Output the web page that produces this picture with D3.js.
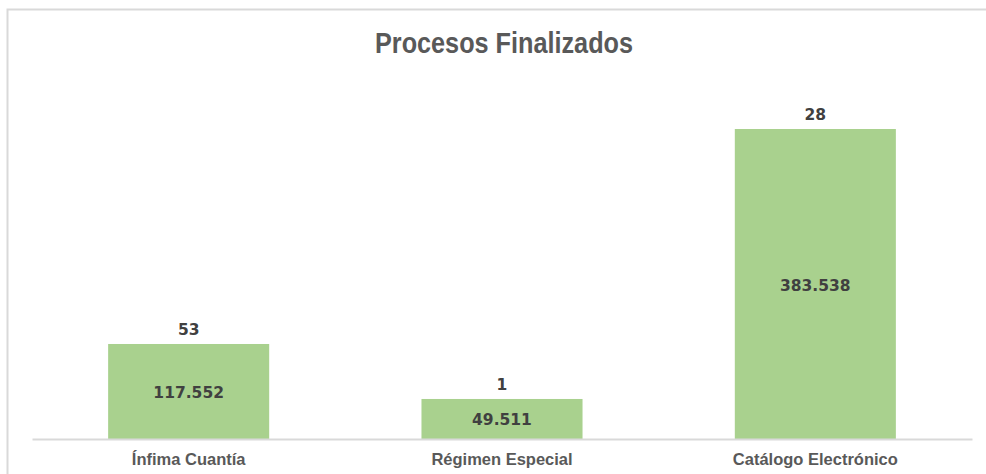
<!DOCTYPE html>
<html>
<head>
<meta charset="utf-8">
<script src="https://cdn.jsdelivr.net/npm/d3@7/dist/d3.min.js"></script>
<style>
  html, body { margin: 0; padding: 0; background: #fff; }
  svg { display: block; }
</style>
</head>
<body>
<svg id="chart" width="986" height="474"></svg>
<script>
const categories = ["Ínfima Cuantía", "Régimen Especial", "Catálogo Electrónico"];
const amounts = [117.552, 49.511, 383.538];
const amountLabels = ["117.552", "49.511", "383.538"];
const counts = [53, 1, 28];
const title = "Procesos Finalizados";

const svg = d3.select("#chart");
const W = 986, H = 474;

// chart border
svg.append("rect")
  .attr("x", 7.5).attr("y", 9.5)
  .attr("width", W + 10).attr("height", H + 10)
  .attr("fill", "#fff")
  .attr("stroke", "#d9d9d9").attr("stroke-width", 2);

const plot = { left: 32, right: 972, top: 129, bottom: 439 };

const x = d3.scaleBand()
  .domain(categories)
  .range([plot.left, plot.right])
  .paddingInner(0.486)
  .paddingOuter(0.243);

const y = d3.scaleLinear()
  .domain([0, 383.538])
  .range([plot.bottom, plot.top]);

const data = categories.map((c, i) => ({ c, v: amounts[i], lab: amountLabels[i], n: counts[i] }));

// bars
svg.append("g").selectAll("rect")
  .data(data).join("rect")
  .attr("x", d => x(d.c))
  .attr("y", d => y(d.v))
  .attr("width", x.bandwidth())
  .attr("height", d => y(0) - y(d.v))
  .attr("fill", "#a9d18e");

// axis
const xAxis = d3.axisBottom(x).tickSize(0).tickPadding(14);
const gx = svg.append("g")
  .attr("transform", `translate(0,${plot.bottom})`)
  .call(xAxis);
gx.select(".domain").attr("stroke", "#d9d9d9").attr("stroke-width", 2);
gx.selectAll("text")
  .attr("fill", "#595959")
  .attr("font-family", "'Liberation Sans', sans-serif")
  .attr("font-weight", "bold")
  .attr("font-size", "16.5px");

// inner value labels
svg.append("g").selectAll("text")
  .data(data).join("text")
  .attr("x", d => x(d.c) + x.bandwidth() / 2)
  .attr("y", d => (y(d.v) + y(0)) / 2 + 6.5)
  .attr("text-anchor", "middle")
  .attr("fill", "#404040")
  .attr("font-family", "'DejaVu Sans', sans-serif")
  .attr("font-weight", "bold")
  .attr("font-size", "15.5px")
  .text(d => d.lab);

// count labels above bars
svg.append("g").selectAll("text")
  .data(data).join("text")
  .attr("x", d => x(d.c) + x.bandwidth() / 2)
  .attr("y", d => y(d.v) - 9)
  .attr("text-anchor", "middle")
  .attr("fill", "#404040")
  .attr("font-family", "'DejaVu Sans', sans-serif")
  .attr("font-weight", "bold")
  .attr("font-size", "15.5px")
  .text(d => d.n);

// title
svg.append("text")
  .attr("x", 504).attr("y", 53)
  .attr("text-anchor", "middle")
  .attr("fill", "#595959")
  .attr("font-family", "'Liberation Sans', sans-serif")
  .attr("font-weight", "bold")
  .attr("font-size", "29px")
  .attr("textLength", 258)
  .attr("lengthAdjust", "spacingAndGlyphs")
  .text(title);
</script>
</body>
</html>
